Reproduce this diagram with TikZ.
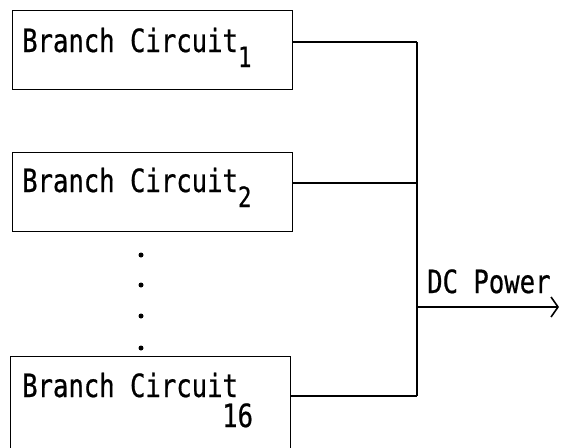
\documentclass[tikz,border=0pt]{standalone}
\usepackage{fontspec}
\newfontfamily\plotterfont[FakeStretch=0.8,FakeBold=0.6]{DejaVu Sans Mono}
\usetikzlibrary{arrows.meta}
\newcommand{\lowidx}[1]{\raisebox{-15pt}{\fontsize{28}{28}\selectfont #1}}

\begin{document}
\begin{tikzpicture}[x=1pt,y=-1pt,>={Straight Barb[length=7pt,width=20pt,line width=1.6pt]},
  every node/.style={font=\plotterfont\fontsize{32}{32}\selectfont},
  box/.style={draw,line width=1.4pt,minimum width=280pt,minimum height=79pt,anchor=north west,inner sep=0pt},
  lbl/.style={anchor=base west,inner sep=0pt},
  w/.style={line width=1.6pt},
  dot/.style={circle,fill,inner sep=0pt,minimum size=5pt}]
\useasboundingbox (0,0) rectangle (561,447);
\clip (0,0) rectangle (561,447);
% branch circuit boxes
\node[box] (b1) at (12,10) {};\node[lbl] (t1) at (22,52) {Branch Circuit\lowidx{1}};
\node[box] (b2) at (12,152) {};\node[lbl] (t2) at (22,192) {Branch Circuit\lowidx{2}};
\node[box,minimum height=110pt] (b16) at (10,356) {};\node[lbl] (t16) at (22,397) {Branch Circuit};\node[lbl] (n16) at (222,427) {16};
\foreach \y [count=\i] in {255,285,316,348} \node[dot] (d\i) at (141,\y) {};
% bus
\coordinate (bus1) at (417,42);\coordinate (bus2) at (417,183);\coordinate (bus16) at (417,396);
\coordinate (out) at (417,307);\coordinate (tip) at (559,307);
\draw[w] (b1.east |- bus1)--(bus1);\draw[w] (b2.east |- bus2)--(bus2);\draw[w] (b16.east |- bus16)--(bus16);
\draw[w] (bus1)--(bus16);
\draw[w,->] (out)--(tip);
\node[lbl] (dc) at (427,293) {DC Power};
\end{tikzpicture}
\end{document}
